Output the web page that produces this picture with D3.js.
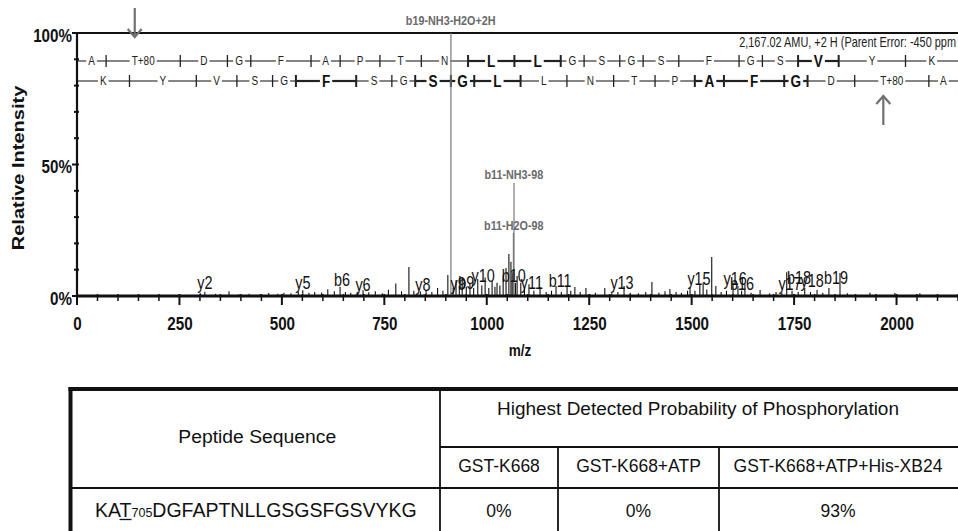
<!DOCTYPE html>
<html><head><meta charset="utf-8">
<script src="https://cdn.jsdelivr.net/npm/d3@7/dist/d3.min.js"></script>
<style>
body{margin:0;background:#fff}
svg{display:block;font-family:Arial,"Liberation Sans",Helvetica,sans-serif}
</style>
</head><body>
<svg id="c" width="958" height="531"></svg>
<script>
// ---------------- DATA ----------------
const xTickValues = [0, 250, 500, 750, 1000, 1250, 1500, 1750, 2000];
const yTickLabels = [0, 50, 100];

// spectrum peaks (m/z, relative intensity %)
const peakMz  = [301,312,338,371,395,420,447,468,490,505,522,540,551,566,580,597,612,628,642,655,668,684,698,712,728,745,760,778,792,810,822,838,852,866,880,893,905,918,925,933,940,950,959,968,978,988,996,1005,1013,1020,1025,1032,1040,1047,1054,1059,1062,1070,1074,1083,1092,1103,1115,1130,1145,1158,1169,1182,1196,1205,1215,1228,1242,1265,1288,1305,1320,1335,1350,1370,1388,1403,1420,1435,1447,1462,1475,1490,1496,1508,1520,1528,1537,1549,1559,1572,1585,1601,1613,1622,1630,1645,1667,1690,1706,1720,1732,1745,1760,1776,1790,1806,1820,1835,1862,1880,1935,1996,2057];
const peakInt = [1.0,1.6,0.8,1.8,0.7,0.9,0.8,1.1,0.9,1.2,1.0,1.6,2.2,1.2,1.5,1.3,2.6,1.8,3.5,1.5,1.2,1.6,2.2,1.4,1.8,1.0,2.4,4.8,1.8,11,2.0,1.7,2.3,1.5,3.0,2.0,8,3,6,4,7,3.5,5,3,6.5,4,7,3,5.7,3.5,5,4,8,10.6,16,13,9,5,7.6,5,3,4.5,2,3.4,1.5,2,3.8,1.5,4,2,3.4,1.5,3,1.2,3,1,1.5,3.8,1.2,1.0,1.5,5.3,1.2,1.8,2.7,1.5,1.2,2,3,2,4.2,5,2.5,14.8,3.8,1.5,2,5,3.8,2,4.5,1.2,2.3,1,1.5,1.2,9,2,1.5,3,1.5,2.3,1.2,3,8.7,1,1.2,1.1,1.0];

// annotated (grey) peaks
const annMz    = [912.5, 1066.5, 1065];
const annInt   = [100, 43, 24];
const annLabel = ["b19-NH3-H2O+2H", "b11-NH3-98", "b11-H2O-98"];
const annLabelMz = [912, 1066, 1066];
const annLabelLevel = [103, 44.5, 25];

// fragment-ion labels
const ionLabel = ["y2","y5","b6","y6","y8","y9","b9","y10","b10","y11","b11","y13","y15","y16","b16","y17","b18","y18","b19"];
const ionMz    = [312,551,647,698,844,930,950,991,1066,1110,1179,1330,1518,1606,1623,1740,1762,1794,1852];
const ionLevel = [2.7,2.7,3.8,1.9,1.9,2.3,2.7,5.3,5.3,2.7,3.4,2.7,4.2,4.2,2.3,2.3,4.6,3.4,4.6];

// sequence ladder rows (residue, residue mass, emphasised)
const row1Res  = ["A","T+80","D","G","F","A","P","T","N","L","L","G","S","G","S","F","G","S","V","Y","K"];
const row1Mass = [71.04,181.01,115.03,57.02,147.07,71.04,97.05,101.05,114.04,113.08,113.08,57.02,87.03,57.02,87.03,147.07,57.02,87.03,99.07,163.06,128.09];
const row1Bold = [0,0,0,0,0,0,0,0,0,1,1,0,0,0,0,0,0,0,1,0,0];
const row2Res  = ["K","Y","V","S","G","F","S","G","S","G","L","L","N","T","P","A","F","G","D","T+80","A"];
const row2Mass = [128.09,163.06,99.07,87.03,57.02,147.07,87.03,57.02,87.03,57.02,113.08,113.08,114.04,101.05,97.05,71.04,147.07,57.02,115.03,181.01,71.04];
const row2Bold = [0,0,0,0,0,1,0,0,1,1,1,0,0,0,0,1,1,1,0,0,0];

const precursorText = "2,167.02 AMU, +2 H (Parent Error: -450 ppm";

// table
const tableColHead  = "Peptide Sequence";
const tableGroupHead = "Highest Detected Probability of Phosphorylation";
const tableSubHeads = ["GST-K668", "GST-K668+ATP", "GST-K668+ATP+His-XB24"];
const seqPre = "KA", seqSite = "T", seqSub = "705", seqPost = "DGFAPTNLLGSGSFGSVYKG";
const tableValues = ["0%", "0%", "93%"];

// ---------------- DRAW ----------------
const svg = d3.select("#c");
const SX = 0.8; // horizontal squeeze of chart texts
const x = d3.scaleLinear().domain([0, 2150]).range([77, 958]);
const y = d3.scaleLinear().domain([0, 100]).range([296, 33]);

function sText(g, tx, ty, str, fs, weight, anchor, fill, sx) {
  const t = g.append("text")
    .attr("transform", `translate(${tx},${ty}) scale(${sx || SX},1)`)
    .attr("text-anchor", anchor || "middle")
    .attr("font-size", fs).attr("font-weight", weight || "normal")
    .attr("fill", fill || "#111").text(str);
  return t;
}

const chart = svg.append("g");

// top 100% line
chart.append("line").attr("x1", x(0)).attr("x2", 958).attr("y1", y(100)).attr("y2", y(100))
  .attr("stroke", "#111").attr("stroke-width", 2.2);

// sequence ladder
function drawRow(res, mass, bold, yRow) {
  const g = chart.append("g");
  const cum = [0];
  mass.forEach(m => cum.push(cum[cum.length - 1] + m));
  const centers = [];
  res.forEach((r, i) => {
    const x0 = x(cum[i]), x1 = x(cum[i + 1]), xc = (x0 + x1) / 2;
    const b = bold[i] === 1;
    const fs = b ? 17 : 12.5;
    const t = sText(g, xc, yRow + fs * 0.358, r, fs, b ? "bold" : "normal", "middle", b ? "#111" : "#222");
    const w = t.node().getComputedTextLength() * SX;
    centers.push({xc, w, fs});
    const sw = b ? 2.2 : 1.1;
    g.append("line").attr("x1", x0).attr("x2", xc - w / 2 - 2).attr("y1", yRow).attr("y2", yRow)
      .attr("stroke", "#222").attr("stroke-width", sw);
    g.append("line").attr("x1", xc + w / 2 + 2).attr("x2", x1).attr("y1", yRow).attr("y2", yRow)
      .attr("stroke", "#222").attr("stroke-width", sw);
  });
  for (let i = 1; i < cum.length - 1; i++) {
    const b = bold[i - 1] === 1 || bold[i] === 1;
    g.append("line").attr("x1", x(cum[i])).attr("x2", x(cum[i]))
      .attr("y1", yRow - 6).attr("y2", yRow + 6)
      .attr("stroke", "#222").attr("stroke-width", b ? 2 : 1.3);
  }
  return centers;
}
const c1 = drawRow(row1Res, row1Mass, row1Bold, 61);
const c2 = drawRow(row2Res, row2Mass, row2Bold, 81);

// arrows marking the phospho-threonine
function arrow(xa, yTip, dir) {
  const len = 29, hw = 7, hh = 8;
  const g = chart.append("g").attr("stroke", "#707070").attr("stroke-width", 2.2).attr("fill", "none");
  g.append("line").attr("x1", xa).attr("x2", xa).attr("y1", yTip).attr("y2", yTip - dir * len);
  g.append("polyline").attr("points", `${xa - hw},${yTip - dir * hh} ${xa},${yTip} ${xa + hw},${yTip - dir * hh}`);
}
const tW = 0.611 * 12.5 * SX;
const pt1 = c1[row1Res.indexOf("T+80")], pt2 = c2[row2Res.indexOf("T+80")];
arrow(pt1.xc - pt1.w / 2 + tW / 2, 37, 1);
arrow(pt2.xc - pt2.w / 2 + tW / 2, 96, -1);

// precursor text
sText(chart, 956, 47, precursorText, 14, "normal", "end", "#222", 0.78);

// grey annotated peaks
annMz.forEach((m, i) => {
  chart.append("line").attr("x1", x(m)).attr("x2", x(m)).attr("y1", y(0)).attr("y2", y(annInt[i]))
    .attr("stroke", "#7a7a7a").attr("stroke-width", 1.2);
});
annLabel.forEach((l, i) => {
  sText(chart, x(annLabelMz[i]), y(annLabelLevel[i]), l, 13.5, "bold", "middle", "#6a6a6a");
});

// black peaks
peakMz.forEach((m, i) => {
  chart.append("line").attr("x1", x(m)).attr("x2", x(m)).attr("y1", y(0)).attr("y2", y(peakInt[i]))
    .attr("stroke", "#111").attr("stroke-width", 1.1);
});

// ion labels
ionLabel.forEach((l, i) => {
  sText(chart, x(ionMz[i]), y(ionLevel[i]), l, 18, "normal", "middle", "#111");
});

// x axis
const minor = d3.range(0, 2151, 50);
chart.append("g").selectAll("line").data(minor).join("line")
  .attr("x1", d => x(d)).attr("x2", d => x(d))
  .attr("y1", y(0) - 2).attr("y2", d => d % 250 === 0 ? y(0) + 9 : y(0) + 5)
  .attr("stroke", "#111").attr("stroke-width", d => d % 250 === 0 ? 2 : 1.5);
chart.append("line").attr("x1", x(0)).attr("x2", 958).attr("y1", y(0)).attr("y2", y(0))
  .attr("stroke", "#111").attr("stroke-width", 3.2);
const xa = chart.append("g").attr("transform", `translate(0,${y(0)})`)
  .call(d3.axisBottom(x).tickValues(xTickValues).tickSize(0).tickFormat(d3.format("d")));
xa.select(".domain").remove();
xa.selectAll("text").attr("y", 21).attr("font-size", 19).attr("font-weight", "bold")
  .attr("font-family", "Arial, 'Liberation Sans', sans-serif").attr("fill", "#111")
  .attr("transform", `scale(${SX},1)`);

sText(chart, 520, 356, "m/z", 17, "bold", "middle", "#111");

// y axis
chart.append("line").attr("x1", x(0)).attr("x2", x(0)).attr("y1", y(100)).attr("y2", y(0))
  .attr("stroke", "#111").attr("stroke-width", 2.2);
chart.append("g").selectAll("line").data(d3.range(0, 101, 10)).join("line")
  .attr("x1", d => d % 50 === 0 ? x(0) - 5 : x(0) - 3).attr("x2", x(0) + 2)
  .attr("y1", d => y(d)).attr("y2", d => y(d))
  .attr("stroke", "#111").attr("stroke-width", 2);
yTickLabels.forEach(v => {
  sText(chart, 72, y(v) + 19 * 0.358 + 2, v + "%", 19, "bold", "end", "#111");
});
chart.append("text")
  .attr("transform", "translate(24,168) rotate(-90) scale(1,0.8)")
  .attr("text-anchor", "middle").attr("font-size", 20).attr("font-weight", "bold")
  .attr("fill", "#111").text("Relative Intensity");

// ---------------- TABLE ----------------
const tb = svg.append("g").attr("font-size", 17.5).attr("fill", "#111");
const L = 70.5, T = 389, C1 = 440, C2 = 558, C3 = 719, H1 = 447, H2 = 488, R = 960;
const ln = (x1, y1, x2, y2, w) => tb.append("line").attr("x1", x1).attr("y1", y1).attr("x2", x2).attr("y2", y2)
  .attr("stroke", "#111").attr("stroke-width", w);
ln(C1, T, C1, 531, 1.8);
ln(C1, H1, R, H1, 1.8);
ln(L, H2, R, H2, 1.8);
ln(C2, H1, C2, 531, 1.8);
ln(C3, H1, C3, 531, 1.8);
ln(L - 2, T, R, T, 4);
ln(L, T - 2, L, 531, 4);

const tt = (xx, yy, s, len) => {
  const t = tb.append("text").attr("x", xx).attr("y", yy).attr("text-anchor", "middle").text(s);
  if (len) t.attr("textLength", len).attr("lengthAdjust", "spacingAndGlyphs");
  return t;
};
tt((L + C1) / 2 + 2, 443, tableColHead, 158);
tt((C1 + R) / 2 - 2, 415, tableGroupHead, 402);
const colC = [(C1 + C2) / 2, (C2 + C3) / 2, (C3 + 957) / 2];
tableSubHeads.forEach((s, i) => tt(colC[i], 472, s));
tableValues.forEach((s, i) => tt(colC[i], 517, s));

const seq = tb.append("text").attr("x", 95).attr("y", 517).attr("font-size", 19.5);
seq.append("tspan").text(seqPre);
seq.append("tspan").text(seqSite);
seq.append("tspan").attr("font-size", 12.5).text(seqSub);
seq.append("tspan").text(seqPost);
// underline for the site residue
const preW = seq.node().getSubStringLength(0, seqPre.length);
const siteW = seq.node().getSubStringLength(seqPre.length, 1);
tb.append("line").attr("x1", 95 + preW).attr("x2", 95 + preW + siteW).attr("y1", 519.5).attr("y2", 519.5)
  .attr("stroke", "#111").attr("stroke-width", 1.3);
</script>
</body></html>
